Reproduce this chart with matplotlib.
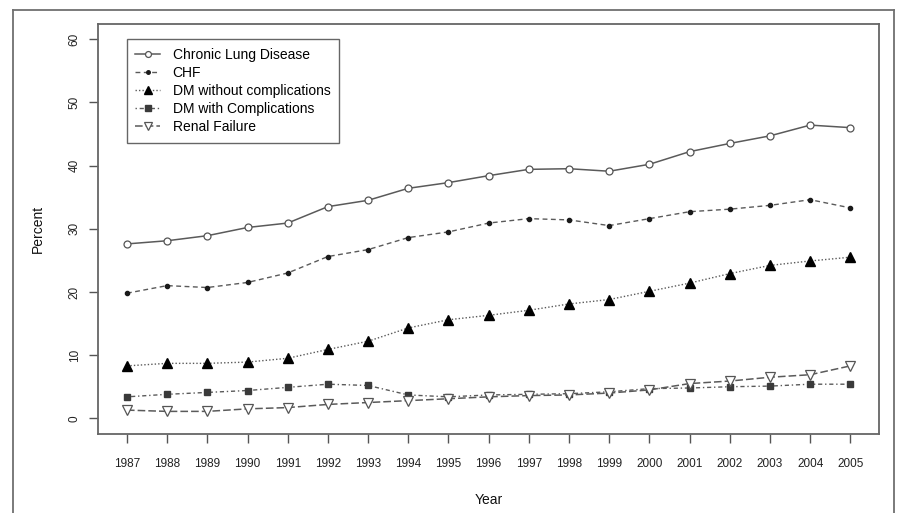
import matplotlib
matplotlib.use("Agg")
import matplotlib.pyplot as plt
from matplotlib.lines import Line2D

plt.rcParams['font.family'] = ['Liberation Sans', 'DejaVu Sans']

years = list(range(1987, 2006))
chronic_lung = [27.6, 28.1, 28.9, 30.2, 30.9, 33.5, 34.5, 36.4, 37.3, 38.4,
                39.4, 39.5, 39.1, 40.2, 42.2, 43.5, 44.7, 46.4, 46.0]
chf = [19.8, 21.0, 20.7, 21.5, 23.0, 25.6, 26.7, 28.6, 29.5, 30.9,
       31.6, 31.4, 30.5, 31.6, 32.7, 33.1, 33.7, 34.6, 33.3]
dm_without = [8.3, 8.7, 8.7, 8.9, 9.5, 10.9, 12.2, 14.3, 15.6, 16.3,
              17.1, 18.1, 18.8, 20.1, 21.4, 22.9, 24.2, 24.9, 25.5]
dm_with = [3.4, 3.8, 4.1, 4.4, 4.9, 5.4, 5.2, 3.7, 3.4, 3.7,
           3.8, 3.9, 4.2, 4.7, 4.8, 5.0, 5.1, 5.4, 5.4]
renal = [1.3, 1.1, 1.1, 1.5, 1.7, 2.2, 2.5, 2.8, 3.1, 3.4,
         3.6, 3.7, 4.0, 4.5, 5.5, 5.9, 6.5, 6.9, 8.3]
labels = ["Chronic Lung Disease", "CHF", "DM without complications",
          "DM with Complications", "Renal Failure"]
y_ticks = [0, 10, 20, 30, 40, 50, 60]

W, H = 897, 513
fig = plt.figure(figsize=(W / 100, H / 100), dpi=100)
ax = fig.add_axes([98 / W, 1 - 434 / H, (879.3 - 98) / W, (434 - 24) / H])

lc = '#5a5a5a'
mk = '#1a1a1a'
ax.plot(years, chronic_lung, color=lc, lw=1.1, ls='-', marker='o', ms=5,
        mfc='white', mec='#555555', mew=0.9, label=labels[0])
ax.plot(years, chf, color=lc, lw=1.0, ls=(0, (3.5, 2.5)), marker='o', ms=3,
        mfc=mk, mec=mk, label=labels[1])
ax.plot(years, dm_without, color=lc, lw=1.0, ls=(0, (1, 1.5)), marker='^', ms=6.5,
        mfc='black', mec='black', label=labels[2])
ax.plot(years, dm_with, color=lc, lw=1.0, ls=(0, (1, 2, 3, 2)), marker='s', ms=5,
        mfc='#3a3a3a', mec='#3a3a3a', label=labels[3])
ax.plot(years, renal, color=lc, lw=1.1, ls=(0, (5, 2)), marker='v', ms=7,
        mfc='white', mec='#555555', mew=0.9, label=labels[4])

ax.set_xlim(1986.28, 2005.72)
ax.set_ylim(-2.48, 62.4)
ax.set_xticks(years)
ax.set_xticklabels([str(y) for y in years])
ax.set_yticks(y_ticks)
ax.set_yticklabels([str(v) for v in y_ticks], rotation=90, va='center')
ax.tick_params(axis='both', length=6.5, width=1, color='#555555',
               labelsize=8.5, labelcolor='#222222')
ax.tick_params(axis='x', pad=10.5)
ax.tick_params(axis='y', pad=6)
for s in ax.spines.values():
    s.set_color('#666666')
    s.set_linewidth(1.3)

ax.set_xlabel("Year", fontsize=10, color='#111111', labelpad=17)
ax.set_ylabel("Percent", fontsize=10, color='#111111', labelpad=17)

leg = ax.legend(loc='upper left', bbox_to_anchor=(0.0367, 0.963), fontsize=10,
                handlelength=1.8, handletextpad=0.9, labelspacing=0.3,
                borderpad=0.6, borderaxespad=0, fancybox=False, framealpha=1,
                edgecolor='#666666', numpoints=1, markerscale=0.85)
leg.get_frame().set_linewidth(1.0)

# outer frame
fc = '#707070'
x0, x1, yt = 13.3 / W, 893.7 / W, 1 - 10 / H
fig.add_artist(Line2D([x0, x0], [0, yt], transform=fig.transFigure, color=fc, lw=1.3))
fig.add_artist(Line2D([x0, x1], [yt, yt], transform=fig.transFigure, color=fc, lw=1.3))
fig.add_artist(Line2D([x1, x1], [0, yt], transform=fig.transFigure, color=fc, lw=1.3))

fig.savefig("out.png", dpi=100)
